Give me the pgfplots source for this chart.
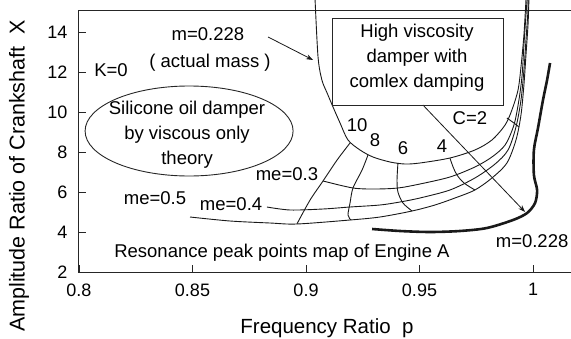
\documentclass[border=0pt]{standalone}
\usepackage{pgfplots}
\pgfplotsset{compat=1.18}
\usetikzlibrary{arrows.meta}
\usepackage{fontspec}
\setmainfont{Liberation Sans}
\begin{document}
\begin{tikzpicture}
\useasboundingbox (-79pt,-66pt) rectangle (492pt,272pt);
\begin{axis}[
  at={(0,0)}, anchor=south west,
  scale only axis, width=500pt, height=261pt,
  xmin=0.8, xmax=1.02026, ymin=2, ymax=15.05,
  clip=false,
  axis line style={line width=1pt, black!85},
  tick align=inside, xtick pos=bottom, ytick pos=left,
  major tick length=7pt,
  tick style={line width=0.9pt, black!85},
  xtick={0.8,0.85,0.9,0.95,1}, xticklabels={0.8,0.85,0.9,0.95,1},
  ytick={2,4,6,8,10,12,14},
  tick label style={font=\fontsize{18}{20}\selectfont},
  /pgf/number format/assume math mode=true,
  xticklabel style={yshift=-8pt},
  yticklabel style={xshift=-8pt},
  crv/.style={line width=0.9pt, black!90, smooth, tension=0.5, mark=none},
]
% me = 0.228 (actual mass)
\addplot[crv] coordinates {
(0.9040,15.6) (0.9053,12.75) (0.9070,11.6) (0.9093,10.95) (0.9119,10.25) (0.9150,9.45)
(0.9185,8.6) (0.9238,8.1) (0.9295,7.75) (0.9370,7.5) (0.9436,7.4) (0.9502,7.45)
(0.9634,7.7) (0.9744,8.1) (0.9819,8.6) (0.9877,9.35) (0.9907,10.1) (0.9934,11.1)
(0.9947,12.25) (0.9960,13.85) (0.9969,15.6)};
% me = 0.3
\addplot[crv] coordinates {
(0.9075,6.55) (0.9207,6.2) (0.9304,6.15) (0.9405,6.2) (0.9502,6.4) (0.9634,6.75)
(0.9744,7.25) (0.9819,7.75) (0.9877,8.35) (0.9916,9.35) (0.9938,10.6) (0.9952,11.85)
(0.9960,13.35) (0.9969,14.85) (0.9974,15.6)};
% me = 0.4
\addplot[crv] coordinates {
(0.8828,5.25) (0.8930,5.1) (0.9075,5.15) (0.9194,5.25) (0.9326,5.35) (0.9414,5.5)
(0.9502,5.7) (0.9634,6.1) (0.9744,6.7) (0.9833,7.4) (0.9890,8.1) (0.9925,9.25)
(0.9947,10.6) (0.9960,12.1) (0.9969,13.6) (0.9978,15.1) (0.9978,15.6)};
% me = 0.5
\addplot[crv] coordinates {
(0.8489,4.75) (0.8665,4.55) (0.8841,4.45) (0.8960,4.4) (0.9194,4.6) (0.9326,4.75)
(0.9467,5.05) (0.9568,5.35) (0.9656,5.7) (0.9744,6.1) (0.9819,6.7) (0.9885,7.45)
(0.9925,8.6) (0.9947,9.85) (0.9960,11.35) (0.9969,12.85) (0.9978,14.35) (0.9982,15.6)};
% C = 10
\addplot[crv] coordinates {
(0.9194,8.45) (0.9137,7.6) (0.9075,6.55) (0.9018,5.6) (0.8960,4.4)};
% C = 8
\addplot[crv] coordinates {
(0.9273,7.85) (0.9247,7.1) (0.9207,6.2) (0.9194,5.45) (0.9185,4.85) (0.9198,4.6)};
% C = 6
\addplot[crv] coordinates {
(0.9405,7.45) (0.9401,6.6) (0.9405,6.0) (0.9427,5.45) (0.9467,5.05)};
% C = 4
\addplot[crv] coordinates {
(0.9634,7.7) (0.9648,7.25) (0.9665,6.85) (0.9696,6.45) (0.9744,6.1)};
% C = 2
\addplot[crv] coordinates {
(0.9885,9.7) (0.9916,9.45) (0.9938,9.25)};
% m = 0.228 (thick)
\addplot[crv, line width=2.6pt] coordinates {
(0.9291,4.15) (0.9414,4.05) (0.9546,4.0) (0.9678,4.05) (0.9797,4.2) (0.9912,4.6)
(0.9974,4.95) (1.0009,5.45) (1.0018,6.1) (1.0004,6.85) (1.0004,8.1) (1.0022,9.2)
(1.0044,10.6) (1.0062,11.6) (1.0075,12.45)};

\draw[line width=0.8pt, black!90, -{Stealth[length=7pt,width=5pt]}] (axis cs:0.8833,13.75) -- (axis cs:0.9031,12.6);
\draw[line width=0.8pt, black!90, -{Stealth[length=7pt,width=5pt]}] (axis cs:0.9515,10.35) -- (axis cs:0.9965,5.0);
\draw[line width=0.9pt, black!85] (axis cs:0.9115,14.7) rectangle (axis cs:0.9868,10.35);
\draw[line width=0.9pt, black!85] (axis cs:0.8485,9.05) ellipse [x radius=104pt, y radius=45pt];

\begin{scope}[every node/.style={font=\fontsize{18.5}{25}\selectfont, inner sep=0pt}]
\node at (axis cs:0.8568,13.9) {m=0.228};
\node at (axis cs:0.8577,12.45) {( actual mass )};
\node at (axis cs:0.8141,12.1) {K=0};
\node[align=center] at (axis cs:0.9489,12.7) {High viscosity\\damper with\\comlex damping};
\node[align=center] at (axis cs:0.8476,8.85) {Silicone oil damper\\by viscous only\\theory};
\node at (axis cs:0.9722,9.7) {C=2};
\node at (axis cs:0.9225,9.35) {10};
\node at (axis cs:0.9304,8.6) {8};
\node at (axis cs:0.9427,8.2) {6};
\node at (axis cs:0.9599,8.3) {4};
\node at (axis cs:0.8916,6.9) {me=0.3};
\node at (axis cs:0.8335,5.7) {me=0.5};
\node at (axis cs:0.8670,5.4) {me=0.4};
\node at (axis cs:0.8894,2.95) {Resonance peak points map of Engine A};
\node at (axis cs:0.9996,3.55) {m=0.228};
\end{scope}
\end{axis}
\node[rotate=90, font=\fontsize{21.5}{24}\selectfont] at (-60pt,96pt) {Amplitude Ratio of Crankshaft\ \ X};
\node[anchor=base, font=\fontsize{20.5}{24}\selectfont] at (248pt,-61pt) {Frequency Ratio\ \ p};
\end{tikzpicture}
\end{document}
